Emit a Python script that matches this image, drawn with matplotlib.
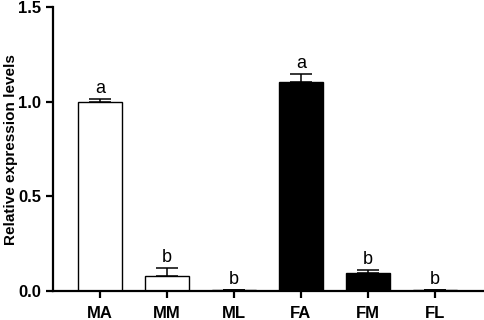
import matplotlib.pyplot as plt
import numpy as np

plt.rcParams['font.family'] = ['Liberation Sans', 'DejaVu Sans']

groups = ['MA', 'MM', 'ML', 'FA', 'FM', 'FL']
means = [1.0, 0.081, 0.005, 1.105, 0.095, 0.005]
errs = [0.015, 0.04, 0.002, 0.042, 0.015, 0.002]
letters = ['a', 'b', 'b', 'a', 'b', 'b']
fills = ['white', 'white', 'white', 'black', 'black', 'black']

fig = plt.figure(figsize=(4.84, 3.2), dpi=100)
ax = fig.add_axes([0.11, 0.09, 0.888, 0.888])

x = np.arange(len(groups))
ax.bar(x, means, width=0.66, color=fills, edgecolor='black', linewidth=1.0, zorder=2)
ax.errorbar(x, means, yerr=[np.zeros(len(errs)), errs], fmt='none',
            ecolor='black', elinewidth=1.1, capsize=8, capthick=1.1, zorder=1)

for xi, m, e, lbl in zip(x, means, errs, letters):
    ax.text(xi, m + e + 0.012, lbl, ha='center', va='bottom', fontsize=13)

ax.set_xlim(-0.7, 5.72)
ax.set_ylim(0, 1.5)
ax.set_yticks([0.0, 0.5, 1.0, 1.5])
ax.set_yticklabels(['0.0', '0.5', '1.0', '1.5'])
ax.set_xticks(x)
ax.set_xticklabels(groups)
ax.set_ylabel('Relative expression levels', fontsize=11, fontweight='bold')
ax.yaxis.set_label_coords(-0.083, 0.5)

for lab in ax.get_xticklabels() + ax.get_yticklabels():
    lab.set_fontweight('bold')
    lab.set_fontsize(12)

ax.spines['top'].set_visible(False)
ax.spines['right'].set_visible(False)
ax.spines['left'].set_linewidth(1.6)
ax.spines['bottom'].set_linewidth(1.6)
ax.tick_params(axis='both', width=1.6, length=5, direction='out')
ax.tick_params(axis='x', pad=6)

fig.savefig('out.png', dpi=100)
